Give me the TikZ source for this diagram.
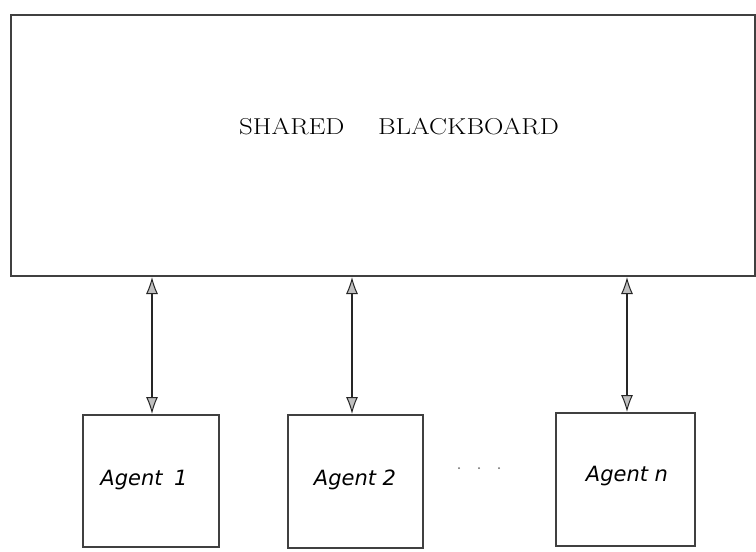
\documentclass[tikz,border=0pt]{standalone}
\usepackage{fontspec}
\usepackage{graphicx}
\newfontfamily\agentfont{DejaVu Sans}
\usetikzlibrary{arrows.meta}
\tikzset{
  boxline/.style={draw=black!75, line width=1.3pt},
  agentbox/.style={boxline},
  tiphead/.style={Latex[length=17pt,width=12pt,open,fill=black!25,line width=1pt]},
  link/.style={draw=black!85, line width=1.4pt, {Latex[length=17pt,width=12pt,open,fill=black!25,line width=1pt]}-{Latex[length=17pt,width=12pt,open,fill=black!25,line width=1pt]}},
  agentlabel/.style={font=\agentfont\itshape\fontsize{21}{25}\selectfont, inner sep=0pt},
  dotmark/.style={circle, fill=black!60, inner sep=0pt, minimum size=2pt}
}
\begin{document}
\begin{tikzpicture}[x=1pt,y=-1pt]
\useasboundingbox (0,0) rectangle (756,552);
% blackboard
\draw[boxline] (11,15) rectangle (755,276);
\node[font=\fontsize{23}{27}\selectfont, inner sep=0pt] (bbtext) at (399,127) {\scalebox{1.17}[1]{SHARED\hspace{1.25em}BLACKBOARD}};
\coordinate (bb1) at (152,277);
\coordinate (bb2) at (352,277);
\coordinate (bbn) at (627,277);
% agents
\draw[agentbox] (83,415) rectangle (219,547);
\draw[agentbox] (288,415) rectangle (423,548);
\draw[agentbox] (556,413) rectangle (695,546);
\coordinate (a1) at (152,414);
\coordinate (a2) at (352,414);
\coordinate (an) at (627,412);
\node[agentlabel] (l1) at (144,480) {Agent\hspace{0.55em}1};
\node[agentlabel] (l2) at (355,480) {Agent 2};
\node[agentlabel] (ln) at (627,476) {Agent n};
% links
\draw[link] (bb1) -- (a1);
\draw[link] (bb2) -- (a2);
\draw[link] (bbn) -- (an);
% dots
\node[dotmark] (d1) at (459,468) {};
\node[dotmark] (d2) at (479,468) {};
\node[dotmark] (d3) at (499,468) {};
\end{tikzpicture}
\end{document}
